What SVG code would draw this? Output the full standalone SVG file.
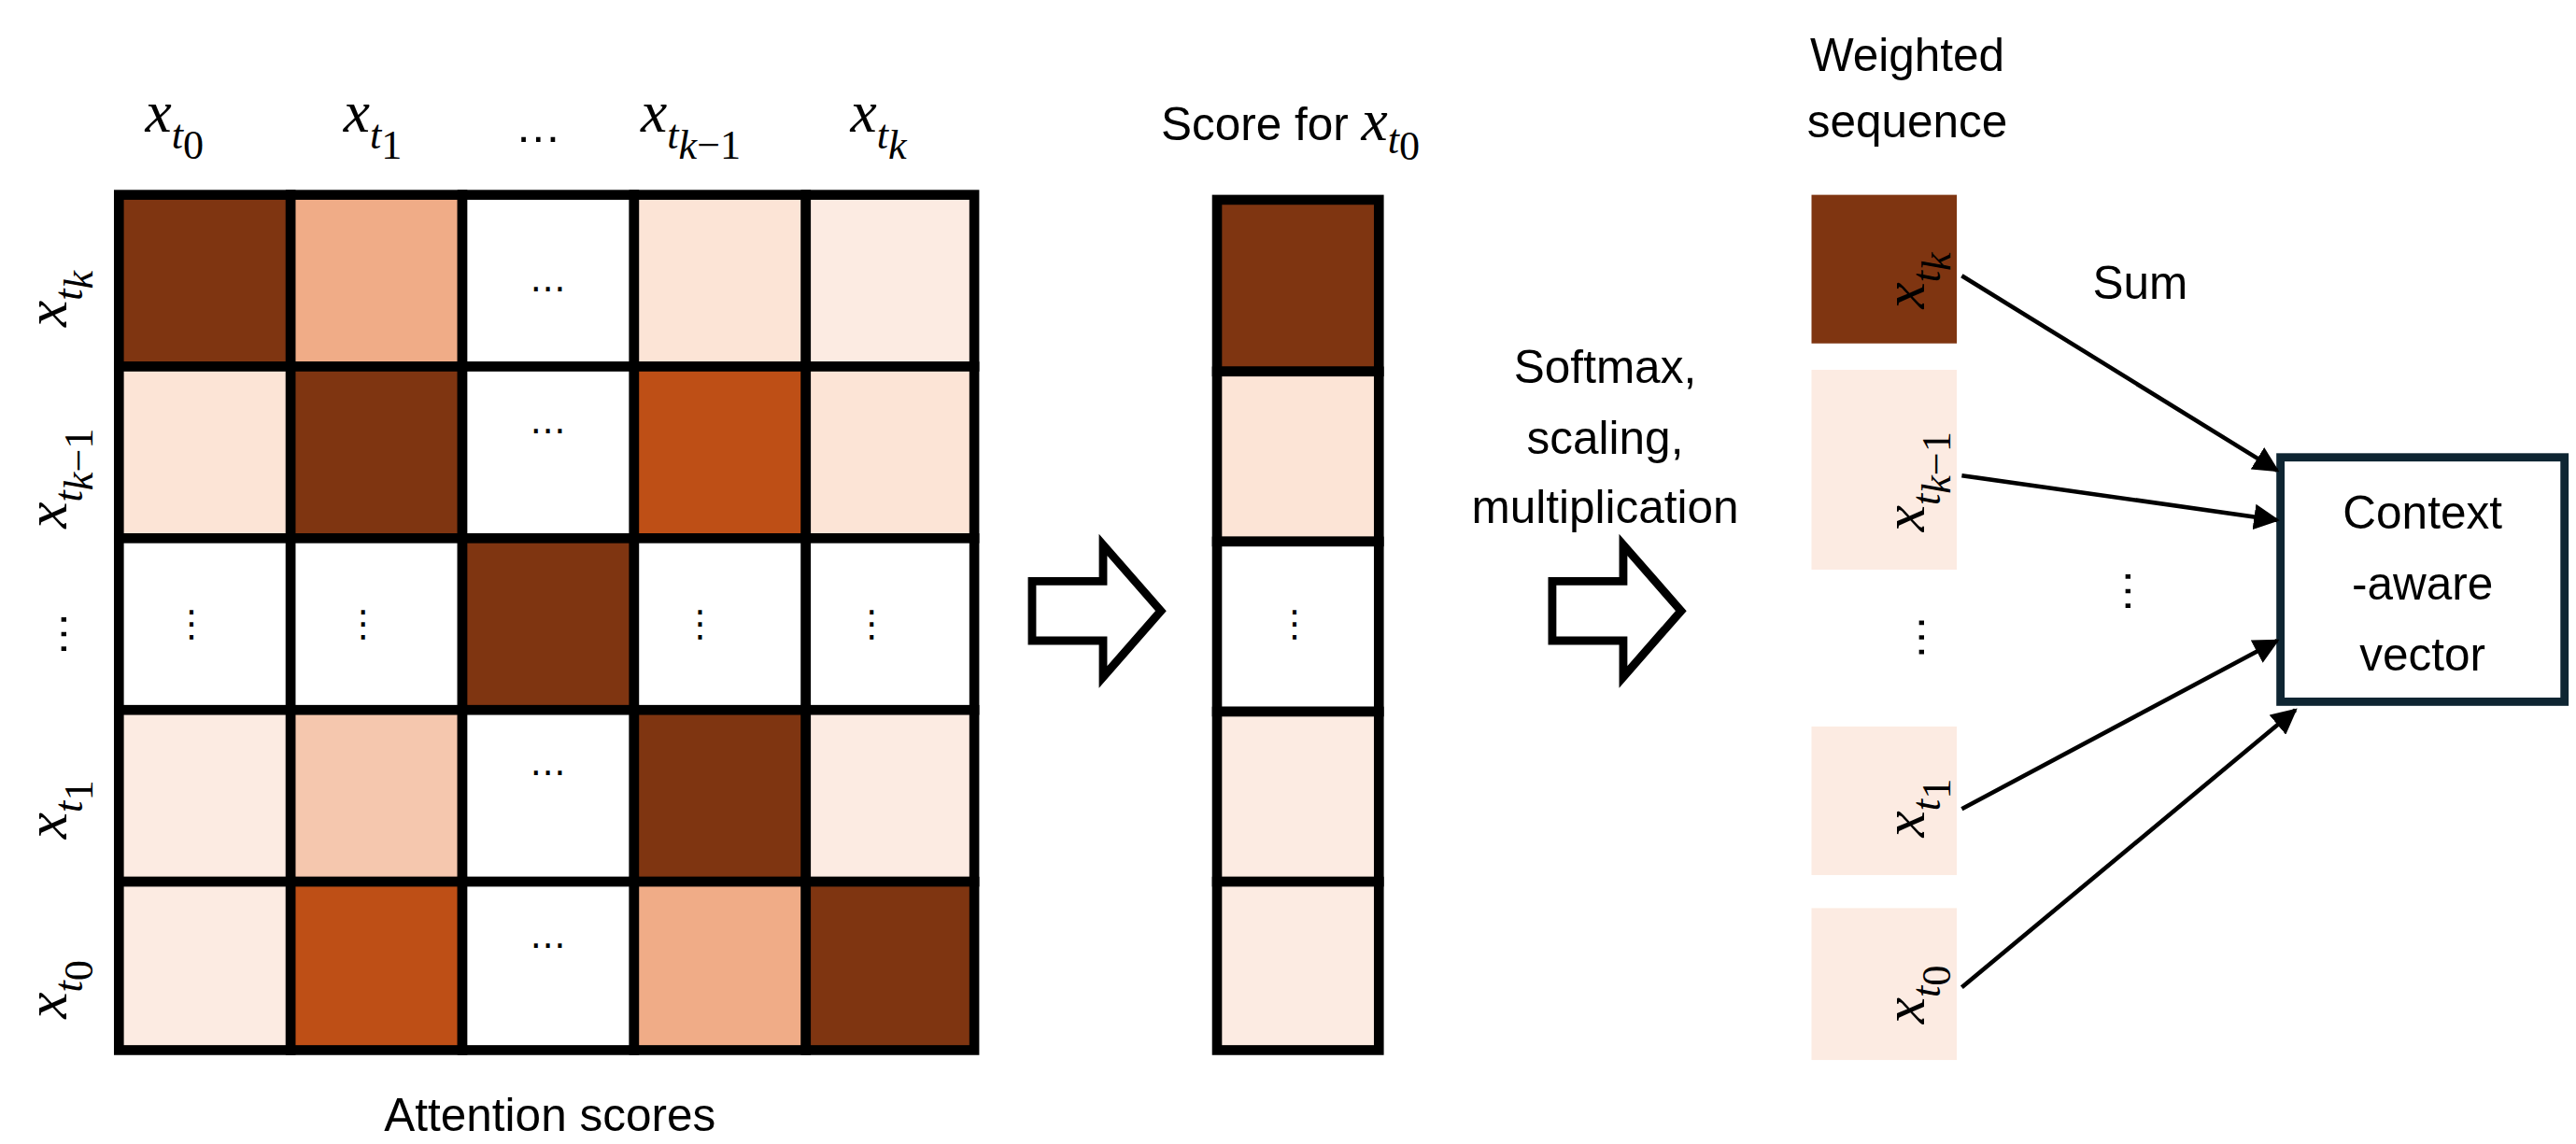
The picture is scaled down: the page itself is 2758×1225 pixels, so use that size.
<svg xmlns="http://www.w3.org/2000/svg" width="2758" height="1225" viewBox="0 0 2758 1225">
<style>
.m{font-family:"Liberation Serif","DejaVu Serif",serif;font-style:italic;font-size:36px;fill:#000}
.s{font-size:25px}
.t{font-family:"Liberation Sans",Arial,sans-serif;font-size:28px;fill:#000}
.d{font-family:"DejaVu Sans",sans-serif;font-size:22px;fill:#000;text-anchor:middle}
.c{stroke:#000;stroke-width:6}
.ln{stroke:#000;stroke-width:2.6;fill:none;marker-end:url(#ah)}
</style>
<defs>
<marker id="ah" viewBox="0 0 10 10" refX="9" refY="5" markerWidth="6" markerHeight="6" orient="auto" markerUnits="strokeWidth"><path d="M0,0 L10,5 L0,10 z" fill="#000"/></marker>
</defs>
<rect width="2758" height="1225" fill="#fff"/>
<g transform="scale(1.768)">
<g id="matrix">
<rect class="c" x="72" y="118" width="104" height="104" fill="#7F3511"/>
<rect class="c" x="176" y="118" width="104" height="104" fill="#F0AC87"/>
<rect class="c" x="280" y="118" width="104" height="104" fill="#fff"/>
<rect class="c" x="384" y="118" width="104" height="104" fill="#FCE4D6"/>
<rect class="c" x="488" y="118" width="102" height="104" fill="#FCEBE2"/>
<rect class="c" x="72" y="222" width="104" height="104" fill="#FCE4D6"/>
<rect class="c" x="176" y="222" width="104" height="104" fill="#7F3511"/>
<rect class="c" x="280" y="222" width="104" height="104" fill="#fff"/>
<rect class="c" x="384" y="222" width="104" height="104" fill="#BE4F16"/>
<rect class="c" x="488" y="222" width="102" height="104" fill="#FCE4D6"/>
<rect class="c" x="72" y="326" width="104" height="104" fill="#fff"/>
<rect class="c" x="176" y="326" width="104" height="104" fill="#fff"/>
<rect class="c" x="280" y="326" width="104" height="104" fill="#7F3511"/>
<rect class="c" x="384" y="326" width="104" height="104" fill="#fff"/>
<rect class="c" x="488" y="326" width="102" height="104" fill="#fff"/>
<rect class="c" x="72" y="430" width="104" height="104" fill="#FCEBE2"/>
<rect class="c" x="176" y="430" width="104" height="104" fill="#F5C7AE"/>
<rect class="c" x="280" y="430" width="104" height="104" fill="#fff"/>
<rect class="c" x="384" y="430" width="104" height="104" fill="#7F3511"/>
<rect class="c" x="488" y="430" width="102" height="104" fill="#FCEBE2"/>
<rect class="c" x="72" y="534" width="104" height="102" fill="#FCEBE2"/>
<rect class="c" x="176" y="534" width="104" height="102" fill="#BE4F16"/>
<rect class="c" x="280" y="534" width="104" height="102" fill="#fff"/>
<rect class="c" x="384" y="534" width="104" height="102" fill="#F0AC87"/>
<rect class="c" x="488" y="534" width="102" height="102" fill="#7F3511"/>
<text class="d" x="332" y="182">⋯</text>
<text class="d" x="332" y="268">⋯</text>
<text class="d" x="332" y="475">⋯</text>
<text class="d" x="332" y="580">⋯</text>
<text class="d" x="116" y="385">⋮</text>
<text class="d" x="220" y="385">⋮</text>
<text class="d" x="424" y="385">⋮</text>
<text class="d" x="528" y="385">⋮</text>
<text class="t" x="333" y="685" text-anchor="middle">Attention scores</text>
</g>
<g id="col-labels">
<text class="m" x="88" y="80">x<tspan class="s" dy="10">t</tspan><tspan class="s" font-style="normal" dy="6">0</tspan></text>
<text class="m" x="208" y="80">x<tspan class="s" dy="10">t</tspan><tspan class="s" font-style="normal" dy="6">1</tspan></text>
<text class="t" x="312" y="86" font-size="30">…</text>
<text class="m" x="388" y="80">x<tspan class="s" dy="10">t</tspan><tspan class="s" dy="6">k</tspan><tspan class="s" font-style="normal">−1</tspan></text>
<text class="m" x="515" y="80">x<tspan class="s" dy="10">t</tspan><tspan class="s" dy="6">k</tspan></text>
</g>
<g id="row-labels">
<text class="m" transform="translate(40,198) rotate(-90)">x<tspan class="s" dy="10">t</tspan><tspan class="s" dy="6">k</tspan></text>
<text class="m" transform="translate(40,320) rotate(-90)">x<tspan class="s" dy="10">t</tspan><tspan class="s" dy="6">k</tspan><tspan class="s" font-style="normal">−1</tspan></text>
<text class="t" transform="translate(40,398) rotate(-90)" font-size="30">…</text>
<text class="m" transform="translate(40,508) rotate(-90)">x<tspan class="s" dy="10">t</tspan><tspan class="s" font-style="normal" dy="6">1</tspan></text>
<text class="m" transform="translate(40,617) rotate(-90)">x<tspan class="s" dy="10">t</tspan><tspan class="s" font-style="normal" dy="6">0</tspan></text>
</g>
<g id="arrow1"><path d="M625,352 H668 V330 L703,370 L668,410 V388 H625 Z" fill="#fff" stroke="#000" stroke-width="5"/></g>
<g id="score">
<text class="t" x="703" y="85">Score for <tspan class="m">x<tspan class="s" dy="8">t</tspan><tspan class="s" font-style="normal" dy="4">0</tspan></tspan></text>
<rect class="c" x="737" y="121" width="98" height="104" fill="#7F3511"/>
<rect class="c" x="737" y="225" width="98" height="103" fill="#FCE4D6"/>
<rect class="c" x="737" y="328" width="98" height="103" fill="#fff"/>
<rect class="c" x="737" y="431" width="98" height="103" fill="#FCEBE2"/>
<rect class="c" x="737" y="534" width="98" height="102" fill="#FCEBE2"/>
<text class="d" x="784" y="385">⋮</text>
</g>
<g id="softmax">
<text class="t" x="972" y="232" text-anchor="middle">Softmax,</text>
<text class="t" x="972" y="275" text-anchor="middle">scaling,</text>
<text class="t" x="972" y="317" text-anchor="middle">multiplication</text>
</g>
<g id="arrow2"><path d="M940,352 H983 V330 L1018,370 L983,410 V388 H940 Z" fill="#fff" stroke="#000" stroke-width="5"/></g>
<g id="weighted">
<text class="t" x="1155" y="43" text-anchor="middle">Weighted</text>
<text class="t" x="1155" y="83" text-anchor="middle">sequence</text>
<rect x="1097" y="118" width="88" height="90" fill="#7F3511"/>
<rect x="1097" y="224" width="88" height="121" fill="#FCEBE2"/>
<rect x="1097" y="440" width="88" height="90" fill="#FCEBE2"/>
<rect x="1097" y="550" width="88" height="92" fill="#FCEBE2"/>
<text class="m" transform="translate(1165,187) rotate(-90)">x<tspan class="s" dy="10">t</tspan><tspan class="s" dy="6">k</tspan></text>
<text class="m" transform="translate(1165,322) rotate(-90)">x<tspan class="s" dy="10">t</tspan><tspan class="s" dy="6">k</tspan><tspan class="s" font-style="normal">−1</tspan></text>
<text class="t" transform="translate(1165,400) rotate(-90)" font-size="30">…</text>
<text class="m" transform="translate(1165,507) rotate(-90)">x<tspan class="s" dy="10">t</tspan><tspan class="s" font-style="normal" dy="6">1</tspan></text>
<text class="m" transform="translate(1165,620) rotate(-90)">x<tspan class="s" dy="10">t</tspan><tspan class="s" font-style="normal" dy="6">0</tspan></text>
</g>
<g id="context">
<rect x="1381" y="277" width="172" height="148" fill="#fff" stroke="#0E2532" stroke-width="5"/>
<text class="t" x="1467" y="320" text-anchor="middle">Context</text>
<text class="t" x="1467" y="363" text-anchor="middle">-aware</text>
<text class="t" x="1467" y="406" text-anchor="middle">vector</text>
</g>
<g id="connectors">
<text class="t" x="1296" y="181" text-anchor="middle">Sum</text>
<text class="t" transform="translate(1290,372) rotate(-90)" font-size="30">…</text>
<line class="ln" x1="1188" y1="167" x2="1379" y2="285"/>
<line class="ln" x1="1188" y1="288" x2="1379" y2="315"/>
<line class="ln" x1="1188" y1="490" x2="1379" y2="388"/>
<line class="ln" x1="1188" y1="598" x2="1390" y2="430"/>
</g>
</g>
</svg>
